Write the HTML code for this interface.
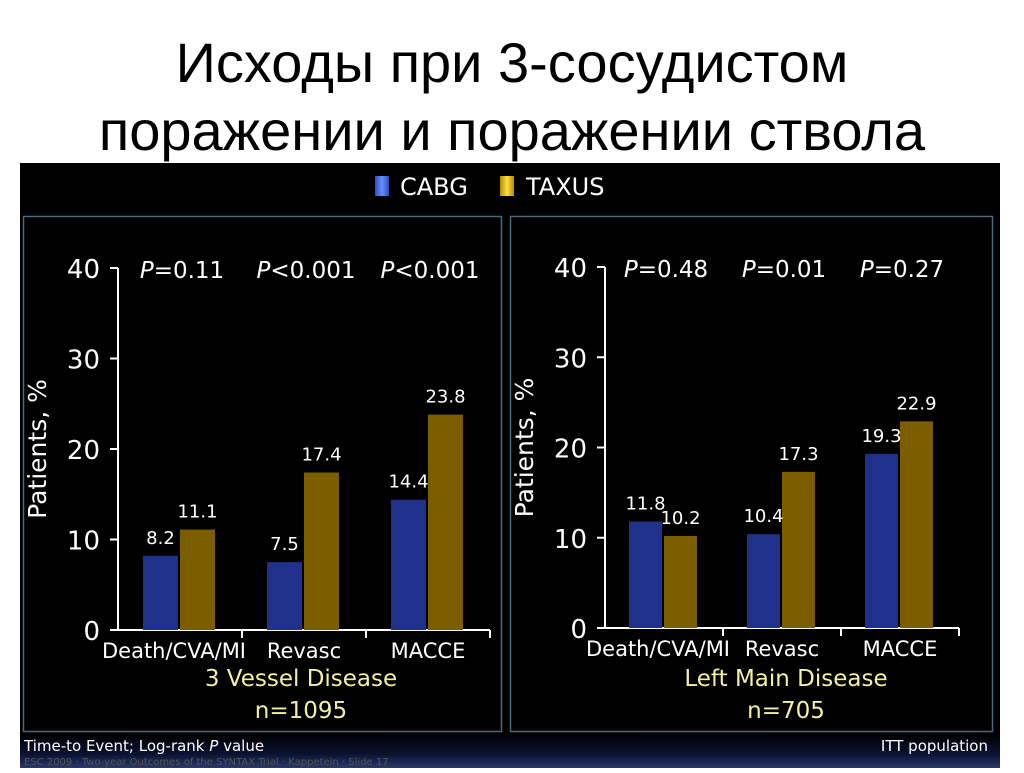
<!DOCTYPE html>
<html><head><meta charset="utf-8"><style>
body{margin:0;width:1024px;height:768px;background:#fff;overflow:hidden;font-family:"Liberation Sans","DejaVu Sans",sans-serif}
</style></head><body>
<svg width="1024" height="768" xmlns="http://www.w3.org/2000/svg" font-family="'DejaVu Sans','Liberation Sans',sans-serif">
<defs><linearGradient id="bg" x1="0" y1="0" x2="0" y2="1"><stop offset="0" stop-color="#000"/><stop offset="0.6" stop-color="#0a1230"/><stop offset="1" stop-color="#2a3a6a"/></linearGradient>
<linearGradient id="cb" x1="0" x2="1"><stop offset="0" stop-color="#2a4fc0"/><stop offset="0.5" stop-color="#6a90ff"/><stop offset="1" stop-color="#2a4fc0"/></linearGradient>
<linearGradient id="tx" x1="0" x2="1"><stop offset="0" stop-color="#b08a00"/><stop offset="0.5" stop-color="#ffe040"/><stop offset="1" stop-color="#b08a00"/></linearGradient></defs>
<text x="512" y="82" text-anchor="middle" font-family="'Liberation Sans','DejaVu Sans',sans-serif" font-size="56" fill="#000">Исходы при 3-сосудистом</text>
<text x="512" y="150" text-anchor="middle" font-family="'Liberation Sans','DejaVu Sans',sans-serif" font-size="56" fill="#000">поражении и поражении ствола</text>
<rect x="20" y="163" width="980" height="605" fill="#000"/>
<rect x="20" y="733" width="980" height="35" fill="url(#bg)"/>
<g>
<rect x="375" y="176" width="14" height="20" fill="url(#cb)"/>
<text x="400" y="195" font-size="24" fill="#fff">CABG</text>
<rect x="500" y="176" width="14" height="20" fill="url(#tx)"/>
<text x="526" y="195" font-size="24" fill="#fff">TAXUS</text>
</g>
<rect x="23.5" y="216.5" width="478" height="515" fill="none" stroke="#4a6a80" stroke-width="1.5"/>
<rect x="510.5" y="216.5" width="482" height="515" fill="none" stroke="#4a6a80" stroke-width="1.5"/>
<text x="24" y="751" font-size="15" fill="#fff">Time-to Event; Log-rank <tspan font-style="italic">P</tspan> value</text>
<text x="24" y="765" font-size="10" fill="#555">ESC 2009 · Two-year Outcomes of the SYNTAX Trial · Kappetein · Slide 17</text>
<text x="988" y="751" text-anchor="end" font-size="15" fill="#fff">ITT population</text>
<g id="charts"></g>
</svg>
<script>
const categories=["Death/CVA/MI","Revasc","MACCE"];
const cabg3v=[8.2,7.5,14.4];
const taxus3v=[11.1,17.4,23.8];
const cabgLM=[11.8,10.4,19.3];
const taxusLM=[10.2,17.3,22.9];
const p3v=["=0.11","<0.001","<0.001"];
const pLM=["=0.48","=0.01","=0.27"];
const yTicks=[0,10,20,30,40];
const NS="http://www.w3.org/2000/svg";
const g=document.getElementById('charts');
function mk(tag,attrs,txt){const e=document.createElementNS(NS,tag);for(const k in attrs)e.setAttribute(k,attrs[k]);if(txt!==undefined)e.textContent=txt;g.appendChild(e);return e;}
function chart(cfg){
 const y=v=>cfg.y0-v*(cfg.y0-cfg.y40)/40;
 const ax=mk('line',{x1:cfg.x0,y1:y(40),x2:cfg.x0,y2:cfg.y0,stroke:'#fff','stroke-width':2});
 
 
 const xa=mk('line',{x1:cfg.x0,y1:cfg.y0,x2:cfg.x0+cfg.cw*3,y2:cfg.y0,stroke:'#fff','stroke-width':2});
 
 
 yTicks.forEach(t=>{
  mk('line',{x1:cfg.x0-8,y1:y(t),x2:cfg.x0,y2:y(t),stroke:'#fff','stroke-width':2});
  const l=mk('text',{x:cfg.x0-18,y:y(t)+10,'text-anchor':'end','font-size':26,fill:'#fff'},t);
  
  
 });
 const yt=mk('text',{transform:`translate(${cfg.x0-72},${(cfg.y0+cfg.y40)/2}) rotate(-90)`,'text-anchor':'middle','font-size':25,fill:'#fff'},'Patients, %');
 
 
 categories.forEach((c,i)=>{
  const cx=cfg.x0+cfg.cw*i;
  mk('line',{x1:cx+cfg.cw,y1:cfg.y0,x2:cx+cfg.cw,y2:cfg.y0+8,stroke:'#fff','stroke-width':2});
  const bx=cx+cfg.off;
  const b1=mk('rect',{x:bx,y:y(cfg.a[i]),width:cfg.bw,height:cfg.y0-y(cfg.a[i]),fill:'#1f318a'});
  
  
  const b2=mk('rect',{x:bx+cfg.bw+2,y:y(cfg.b[i]),width:cfg.bw,height:cfg.y0-y(cfg.b[i]),fill:'#7a5e00'});
  
  
  const v1=mk('text',{x:bx+cfg.bw/2,y:y(cfg.a[i])-12,'text-anchor':'middle','font-size':18,fill:'#fff'},cfg.a[i].toFixed(1));
  
  
  const v2=mk('text',{x:bx+cfg.bw*1.5+2,y:y(cfg.b[i])-12,'text-anchor':'middle','font-size':18,fill:'#fff'},cfg.b[i].toFixed(1));
  
  
  const cl=mk('text',{x:cx+cfg.cw/2+(i==0?-6:0),y:cfg.y0+28,'text-anchor':'middle','font-size':21,fill:'#fff'},c);
  
  
  const pt=mk('text',{x:cx+cfg.cw/2+2,y:y(40)+10,'text-anchor':'middle','font-size':23,fill:'#fff'});
  pt.innerHTML='<tspan font-style="italic">P</tspan>'+cfg.p[i].replace('<','&lt;');
  
  
 });
 const t1=mk('text',{x:cfg.cap,y:686,'text-anchor':'middle','font-size':23,fill:'#f5f0a0'},cfg.title);
 
 
 const t2=mk('text',{x:cfg.cap,y:718,'text-anchor':'middle','font-size':23,fill:'#f5f0a0'},cfg.n);
 
 
}
chart({x0:118,y0:630,y40:268,cw:124,off:25,bw:35,a:cabg3v,b:taxus3v,p:p3v,title:'3 Vessel Disease',n:'n=1095',cap:301});
chart({x0:605,y0:628,y40:267,cw:118,off:24,bw:33,a:cabgLM,b:taxusLM,p:pLM,title:'Left Main Disease',n:'n=705',cap:786});
</script>
</body></html>
